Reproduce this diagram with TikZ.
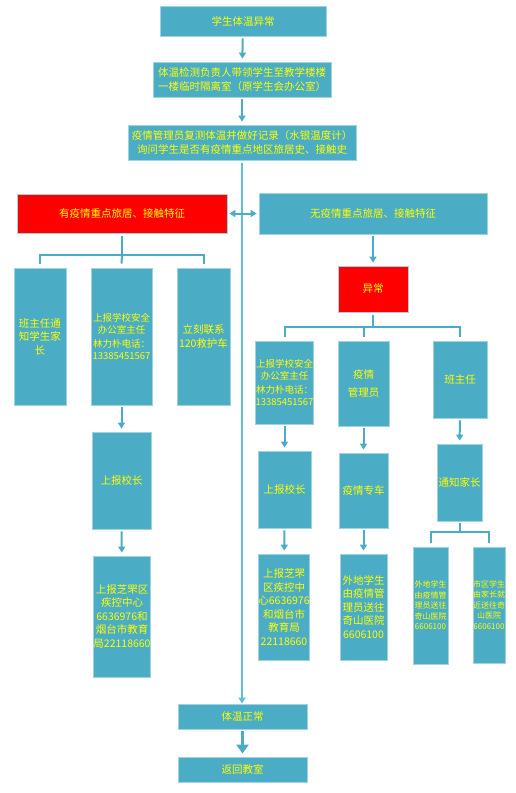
\documentclass[tikz,border=0pt]{standalone}
\usepackage{fontspec}
\setmainfont{Noto Sans CJK SC}
\usetikzlibrary{arrows.meta}
\definecolor{boxteal}{RGB}{75,172,198}
\definecolor{boxedge}{RGB}{160,210,225}
\definecolor{lineteal}{RGB}{75,172,198}
\definecolor{midline}{RGB}{95,190,220}
\definecolor{txtyellow}{RGB}{255,255,0}
\definecolor{boxred}{RGB}{255,0,0}

\tikzset{
  box/.style={draw=boxedge,line width=0.8pt,fill=boxteal,text=txtyellow,align=center,inner sep=0pt,
    font=\fontsize{10.5}{13.5}\selectfont},
  redbox/.style={box,fill=boxred},
  sz/.style 2 args={minimum width=#1pt,minimum height=#2pt},
  conn/.style={draw=lineteal,line width=2pt},
  arr/.style={conn,->,shorten <=2pt,shorten >=3pt}
}

\begin{document}
\begin{tikzpicture}[x=1pt,y=-1pt,>={Triangle[width=7pt,length=6pt]}]
\useasboundingbox (0,0) rectangle (515,793);

% main column
\node[box,sz={166}{30}] (start) at (243,21) {学生体温异常};
\node[box,sz={178}{35}] (isolate) at (242,79.5) {体温检测负责人带领学生至教学楼楼\\一楼临时隔离室（原学生会办公室）};
\node[box,sz={228}{35}] (recheck) at (242,142.5) {疫情管理员复测体温并做好记录（水银温度计）\\询问学生是否有疫情重点地区旅居史、接触史};
\node[redbox,sz={210}{39}] (yes) at (122,213.5) {有疫情重点旅居、接触特征};
\node[box,sz={228}{41}] (no) at (373,213.5) {无疫情重点旅居、接触特征};

% left branch
\node[box,sz={52}{137}] (teacher) at (40,336.5) {班主任通\\知学生家\\长};
\node[box,sz={61}{137},font=\fontsize{9.5}{11.7}\selectfont] (office) at (121.5,336.5) {上报学校安全\\办公室主任\\[3pt]林力朴电话：\\13385451567};
\node[box,sz={53}{137}] (ambulance) at (203.5,336.5) {立刻联系\\120救护车};
\node[box,sz={59}{97}] (head) at (121.5,480.5) {上报校长};
\node[box,sz={52}{121}] (cdc) at (122,616.5) {上报芝罘区\\疾控中心\\6636976和\\烟台市教育\\局22118660};

% right branch
\node[redbox,sz={70}{46}] (abn) at (373,289) {异常};
\node[box,sz={57}{83},font=\fontsize{9.5}{11.7}\selectfont] (office2) at (284.5,382.5) {上报学校安全\\办公室主任\\[3pt]林力朴电话：\\13385451567};
\node[box,sz={51}{85}] (manager) at (363.5,383.5) {疫情\\[5pt]管理员};
\node[box,sz={54}{77}] (teacher2) at (460,379.5) {班主任};
\node[box,sz={53}{77}] (head2) at (284.5,489.5) {上报校长};
\node[box,sz={49}{75}] (car) at (363.5,490.5) {疫情专车};
\node[box,sz={45}{77}] (parent) at (459.5,482.5) {通知家长};
\node[box,sz={50}{106}] (cdc2) at (284,607) {上报芝罘\\区疾控中\\心6636976\\和烟台市\\教育局\\22118660};
\node[box,sz={47}{106}] (hosp) at (363.5,607) {外地学生\\由疫情管\\理员送往\\奇山医院\\6606100};
\node[box,sz={35}{117},font=\fontsize{8}{10.5}\selectfont] (hospa) at (430.5,605.5) {外地学生\\由疫情管\\理员送往\\奇山医院\\6606100};
\node[box,sz={32}{116},font=\fontsize{8}{10.5}\selectfont] (hospb) at (489,605) {市区学生\\由家长就\\近送往奇\\山医院\\6606100};

% end
\node[box,sz={129}{25}] (normal) at (242.5,716.5) {体温正常};
\node[box,sz={129}{25}] (back) at (242.5,769.5) {返回教室};

% connectors
\draw[arr] (start) -- (isolate);
\draw[arr] (isolate) -- (recheck);
\draw[conn,draw=midline,->,shorten <=3pt] (recheck.south) -- (recheck.south |- normal.north);
\draw[conn,<->,shorten <=2pt,shorten >=2pt] (yes.east) -- (no.west);
\draw[arr] (no) -- (abn);
\draw[arr,line width=3pt,>={Triangle[width=12pt,length=9pt]}] (normal) -- (back);

\draw[conn] (yes.south) ++(0,3) -- ++(0,19) coordinate (lbar);
\draw[conn,shorten <=4pt] (teacher.north) |- (lbar) -| ([yshift=4pt]ambulance.north);
\draw[conn] (lbar) -- ([yshift=4pt]office.north);
\draw[arr] (office) -- (head);
\draw[arr] (head) -- (cdc);

\draw[conn] (abn.south) ++(0,3) -- ++(0,12) coordinate (rbar);
\draw[conn,shorten <=4pt] (office2.north) |- (rbar) -| ([yshift=4pt]teacher2.north);
\draw[conn] (rbar -| manager.north) -- ([yshift=4pt]manager.north);
\draw[arr] (office2) -- (head2);
\draw[arr] (head2) -- (cdc2);
\draw[arr] (manager) -- (car);
\draw[arr] (car) -- (hosp);
\draw[arr] (teacher2) -- (parent);

\draw[conn] (parent.south) ++(0,2) -- ++(0,9) coordinate (pbar);
\draw[conn,shorten <=4pt] (hospa.north) |- (pbar) -| ([yshift=4pt]hospb.north);
\end{tikzpicture}
\end{document}
